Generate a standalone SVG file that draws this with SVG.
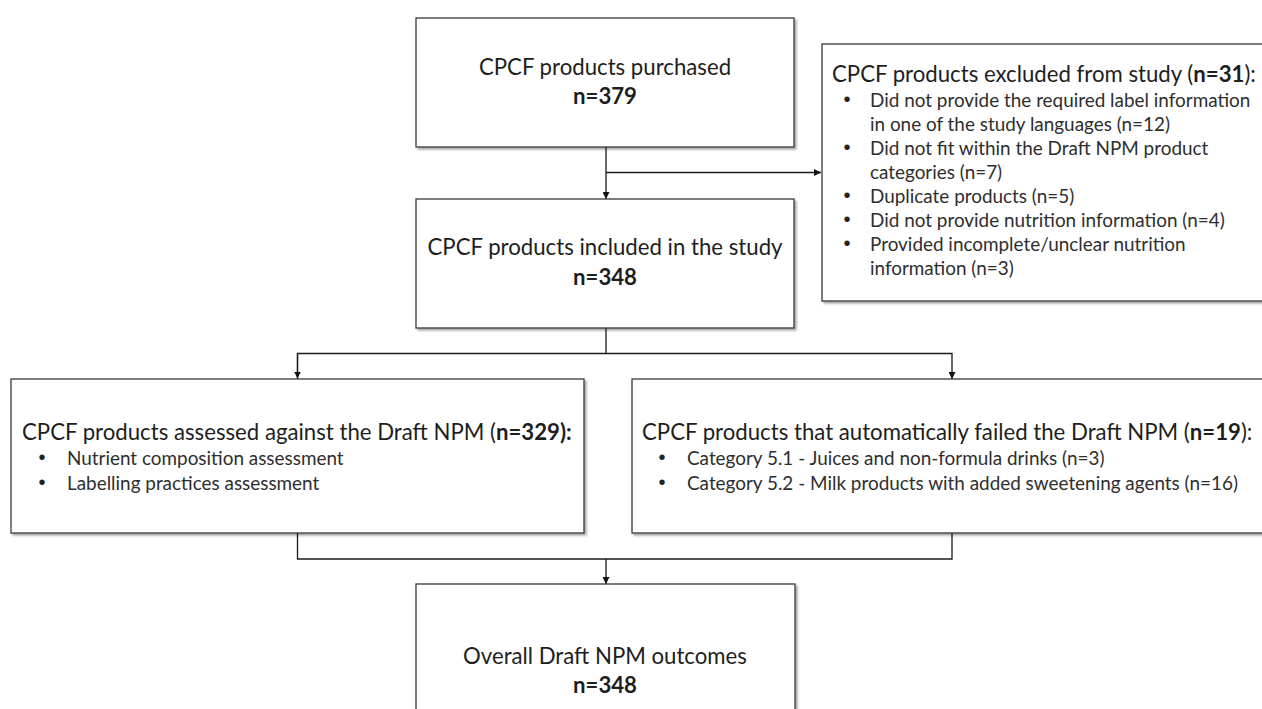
<svg xmlns="http://www.w3.org/2000/svg" width="1262" height="709" viewBox="0 0 1262 709">
  <style>
    .box { fill: #ffffff; stroke: #3a3a3a; stroke-width: 1.3; filter: url(#shadow); }
    .t { font-family: Lato, "Liberation Sans", Arial, sans-serif; font-size: 22.2px; fill: #1e1e1e; }
    .c { text-anchor: middle; }
    .b { font-weight: bold; }
    .li { font-family: Lato, "Liberation Sans", Arial, sans-serif; font-size: 18.9px; fill: #2e2e2e; }
    .dot { font-family: "Liberation Sans", Arial, sans-serif; font-size: 20px; fill: #222; text-anchor: middle; }
    .conn { fill: none; stroke: #1a1a1a; stroke-width: 1.3; }
  </style>
  <defs>
    <filter id="shadow" x="-5%" y="-5%" width="110%" height="115%">
      <feDropShadow dx="2" dy="2" stdDeviation="1.2" flood-color="#000" flood-opacity="0.35"/>
    </filter>
    <marker id="arr" viewBox="0 0 10 10" refX="10" refY="5" markerWidth="7" markerHeight="7" markerUnits="userSpaceOnUse" orient="auto">
      <path d="M0,0 L10,5 L0,10 z" fill="#111"/>
    </marker>
  </defs>
  <rect width="1262" height="709" fill="#ffffff"/>

  <g id="connectors">
    <line class="conn" x1="606" y1="147" x2="606" y2="199" marker-end="url(#arr)"/>
    <line class="conn" x1="606" y1="172.5" x2="821" y2="172.5" marker-end="url(#arr)"/>
    <line class="conn" x1="606" y1="328" x2="606" y2="353.5"/>
    <polyline class="conn" points="297.5,378.5 297.5,353.5 952,353.5 952,379" marker-end="url(#arr)"/>
    <line class="conn" x1="297.5" y1="353.5" x2="297.5" y2="378.5" marker-end="url(#arr)"/>
    <polyline class="conn" points="297.5,533 297.5,559 952,559 952,533"/>
    <line class="conn" x1="606" y1="559" x2="606" y2="584" marker-end="url(#arr)"/>
  </g>

  <g id="purchased">
    <rect class="box" x="416" y="18" width="378" height="129"/>
    <text class="t c" x="605" y="75">CPCF products purchased</text>
    <text class="t c b" x="605" y="104">n=379</text>
  </g>

  <g id="included">
    <rect class="box" x="416" y="199" width="378" height="129"/>
    <text class="t c" x="605" y="255">CPCF products included in the study</text>
    <text class="t c b" x="605" y="285">n=348</text>
  </g>

  <g id="excluded">
    <rect class="box" x="822" y="44" width="460" height="257"/>
    <text class="t" x="832" y="82">CPCF products excluded from study (<tspan class="b">n=31</tspan>):</text>
    <text class="dot" x="847" y="106">•</text>
    <text class="li" x="870" y="107">Did not provide the required label information</text>
    <text class="li" x="870" y="131">in one of the study languages (n=12)</text>
    <text class="dot" x="847" y="154">•</text>
    <text class="li" x="870" y="155">Did not fit within the Draft NPM product</text>
    <text class="li" x="870" y="179">categories (n=7)</text>
    <text class="dot" x="847" y="202">•</text>
    <text class="li" x="870" y="203">Duplicate products (n=5)</text>
    <text class="dot" x="847" y="226">•</text>
    <text class="li" x="870" y="227">Did not provide nutrition information (n=4)</text>
    <text class="dot" x="847" y="250">•</text>
    <text class="li" x="870" y="251">Provided incomplete/unclear nutrition</text>
    <text class="li" x="870" y="275">information (n=3)</text>
  </g>

  <g id="assessed">
    <rect class="box" x="11" y="379" width="573" height="154"/>
    <text class="t" x="22" y="440">CPCF products assessed against the Draft NPM (<tspan class="b">n=329):</tspan></text>
    <text class="dot" x="42" y="464">•</text>
    <text class="li" x="67" y="465">Nutrient composition assessment</text>
    <text class="dot" x="42" y="489">•</text>
    <text class="li" x="67" y="490">Labelling practices assessment</text>
  </g>

  <g id="failed">
    <rect class="box" x="632" y="379" width="650" height="154"/>
    <text class="t" x="642" y="440">CPCF products that automatically failed the Draft NPM (<tspan class="b">n=19</tspan>):</text>
    <text class="dot" x="662" y="464">•</text>
    <text class="li" x="687" y="465">Category 5.1 - Juices and non-formula drinks (n=3)</text>
    <text class="dot" x="662" y="489">•</text>
    <text class="li" x="687" y="490">Category 5.2 - Milk products with added sweetening agents (n=16)</text>
  </g>

  <g id="outcomes">
    <rect class="box" x="416" y="584" width="379" height="150"/>
    <text class="t c" x="605" y="664">Overall Draft NPM outcomes</text>
    <text class="t c b" x="605" y="693">n=348</text>
  </g>
</svg>
